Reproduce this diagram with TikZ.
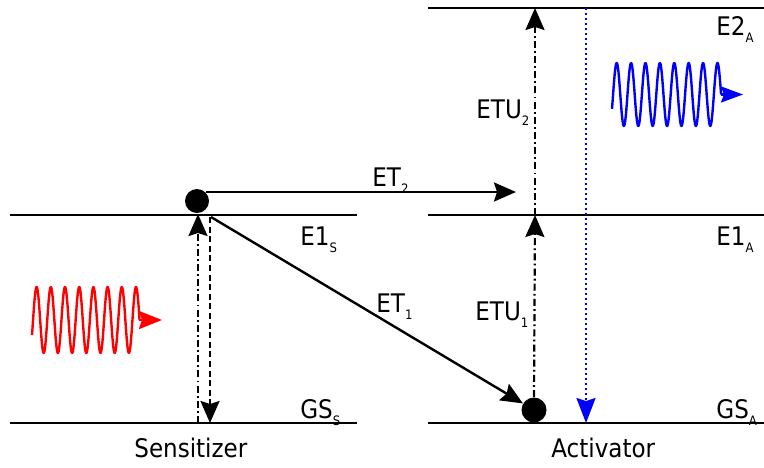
\documentclass[tikz,border=0pt]{standalone}
\usepackage{fontspec}
\setmainfont{DejaVu Sans Condensed}
\usetikzlibrary{arrows.meta}
\newcommand{\lvl}[2]{#1\raisebox{-3.5pt}{\fontsize{6.5}{7}\selectfont #2}}
\tikzset{
  level/.style={line width=1.2pt},
  lbl/.style={anchor=base west, inner sep=0pt, font=\fontsize{12.8}{15}\selectfont},
  dot/.style={circle, fill=black, inner sep=0pt, minimum size=#1},
  head/.style={-{Stealth[length=11pt,width=9.5pt,inset=1.5pt]}},
  dashdot/.style={line width=1.1pt, dash pattern=on 3.5pt off 1.6pt on 0.9pt off 1.6pt},
  dashd/.style={line width=1.1pt, dash pattern=on 3pt off 1.8pt},
  blued/.style={line width=1.2pt, blue, dash pattern=on 1.2pt off 1.3pt},
  wave/.style={line width=1.2pt, line join=round},
}
\begin{document}
\begin{tikzpicture}[x=0.5pt, y=-0.5pt]
\useasboundingbox (0,0) rectangle (764,467);
% levels
\coordinate (s1l) at (10,215); \coordinate (s1r) at (357,215);
\coordinate (s0l) at (10,423); \coordinate (s0r) at (357,423);
\coordinate (a2l) at (428,8);  \coordinate (a2r) at (764,8);
\coordinate (a1l) at (428,215);\coordinate (a1r) at (764,215);
\coordinate (a0l) at (428,423);\coordinate (a0r) at (764,423);
\draw[level] (s1l) -- (s1r);
\draw[level] (s0l) -- (s0r);
\draw[level] (a2l) -- (a2r);
\draw[level] (a1l) -- (a1r);
\draw[level] (a0l) -- (a0r);
% dots
\node[dot=12pt] (sdot) at (197,201) {};
\node[dot=12.5pt] (adot) at (534,410) {};
% sensitizer vertical arrows
\coordinate (supb) at (198,423); \coordinate (supt) at (198,214);
\coordinate (sdnt) at (210,217); \coordinate (sdnb) at (210,423);
\draw[dashdot, head] (supb) -- (supt);
\draw[dashd, head] (sdnt) -- (sdnb);
% ET2
\coordinate (et2s) at (206,192); \coordinate (et2e) at (516,192);
\draw[line width=1.2pt, head] (et2s) -- (et2e);
% ET1
\coordinate (et1s) at (211,217);
\draw[line width=1.2pt, head] (et1s) -- (adot);
% ETU
\coordinate (etu1t) at (535,215); \coordinate (etu2t) at (535,8);
\draw[dashdot, head] (adot.north) -- (etu1t);
\draw[dashdot, head] (etu1t) -- (etu2t);
% blue emission
\coordinate (bt) at (586,8); \coordinate (bb) at (586,423);
\draw[blued, -{Stealth[length=12.5pt,width=9.5pt,inset=1.5pt]}] (bt) -- (bb);
% red wave
\draw[wave, red] plot[domain=-27:2700, samples=300] ({32+0.0394444*(\x+27)}, {320-33*sin(\x)});
\coordinate (rws) at (139.4,320); \coordinate (rwe) at (162,320);
\draw[red, line width=1.2pt, -{Stealth[length=11.5pt,width=9pt,inset=1.5pt]}] (rws) -- (rwe);
% blue wave
\draw[wave, blue] plot[domain=-27:2700, samples=300] ({612+0.04*(\x+27)}, {94.5-31.5*sin(\x)});
\coordinate (bws) at (721,94.5); \coordinate (bwe) at (743,94.5);
\draw[blue, line width=1.2pt, -{Stealth[length=11pt,width=8pt,inset=1.5pt]}] (bws) -- (bwe);
% labels
\node[lbl] (le1s) at (300,245) {\lvl{E1}{S}};
\node[lbl] (lgss) at (300,418) {\lvl{GS}{S}};
\node[lbl] (le2a) at (716,35) {\lvl{E2}{A}};
\node[lbl] (le1a) at (716,245) {\lvl{E1}{A}};
\node[lbl] (lgsa) at (716,418) {\lvl{GS}{A}};
\node[lbl] (let2) at (372,186) {\lvl{ET}{2}};
\node[lbl] (let1) at (376,312) {\lvl{ET}{1}};
\node[lbl] (letu2) at (476,118) {\lvl{ETU}{2}};
\node[lbl] (letu1) at (475,320) {\lvl{ETU}{1}};
\node[lbl] (lsens) at (134,457) {Sensitizer};
\node[lbl] (lact) at (551,457) {Activator};
\end{tikzpicture}
\end{document}
